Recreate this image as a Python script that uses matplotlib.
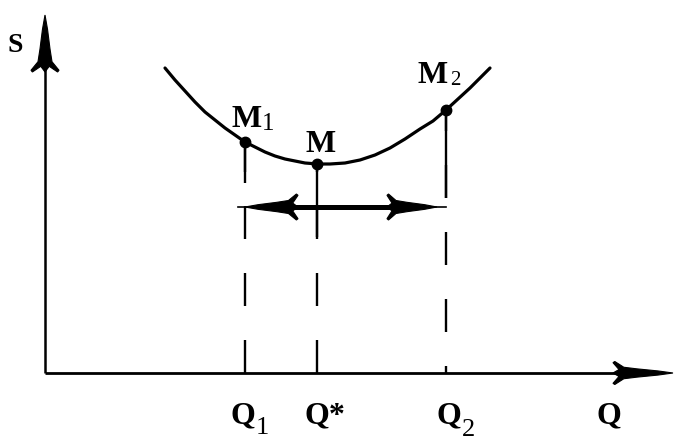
import numpy as np
import matplotlib.pyplot as plt
from matplotlib.patches import Polygon

# =====================================================
# DATA (Q = output, S = cost, same units as the axes)
# =====================================================

curve_q = [120, 130, 140, 150, 160, 170, 180, 190, 200, 210, 220, 230, 240, 250, 260,
           273, 285, 300, 315, 330, 345, 360, 375, 388, 401, 413, 425, 435, 445]
curve_s = [305, 293, 282, 271, 261, 253, 245, 238, 231, 226, 221, 217, 214, 212, 210,
           209, 209, 210, 213, 218, 225, 234, 244, 252, 263, 274, 285, 295, 305]

point_names = ["M", "M", "M"]
point_subs = ["1", "", "2"]
point_q = [200, 272, 401]
point_s = [231, 209, 263]

tick_names = ["Q", "Q*", "Q"]
tick_subs = ["1", "", "2"]

shift_s = 166
shift_q = [193, 401]

q_max = 628
s_max = 358

# =====================================================
# STYLE
# =====================================================

plt.rcParams["font.family"] = ["Liberation Serif", "DejaVu Serif"]
plt.rcParams["lines.scale_dashes"] = False

BLACK = "black"
MAIN_SIZE = 23
SUB_SIZE = 19


def fletch(ax, tip_q, tip_s, dq, ds, length, width):
    # arrow head with swept-back wings and a tapered body
    half_u = [0, -0.25, -0.6, -0.82, -0.97, -1.0, -0.9, -1.0]
    half_v = [0, 0.18, 0.36, 0.5, 1.0, 0.9, 0.3, 0]
    u = np.array(half_u + half_u[-2:0:-1])
    v = np.array(half_v + [-x for x in half_v[-2:0:-1]])
    nq, ns = -ds, dq
    pq = tip_q + u * length * dq + v * width * nq
    ps = tip_s + u * length * ds + v * width * ns
    ax.add_patch(
        Polygon(
            np.column_stack([pq, ps]),
            closed=True,
            facecolor=BLACK,
            edgecolor=BLACK,
            linewidth=0.8,
            zorder=5
        )
    )


# =====================================================
# FIGURE
# =====================================================

fig = plt.figure(figsize=(6.84, 4.48), dpi=100)
ax = fig.add_axes([0, 0, 1, 1])
ax.set_xlim(-45, 639)
ax.set_ylim(-75, 373)
ax.axis("off")

# axes
ax.plot([0, 0], [0, s_max - 40], color=BLACK, lw=1.8, solid_capstyle="butt")
ax.plot([0, q_max - 40], [0, 0], color=BLACK, lw=2.0, solid_capstyle="butt")
fletch(ax, 0, s_max, 0, 1, 57, 14)
fletch(ax, q_max, 0, 1, 0, 60, 11.5)

# dashed drop lines
dash_offsets = [0, 0, 26 * 0.72]
solid_len = [41, 73, 88]

for q, s, off, sl in zip(point_q, point_s, dash_offsets, solid_len):

    ax.plot(
        [q, q],
        [0, s],
        color=BLACK,
        lw=1.7,
        linestyle=(off, (33 * 0.72, 34 * 0.72)),
        solid_capstyle="butt",
        dash_capstyle="butt"
    )

    ax.plot(
        [q, q],
        [s, s - sl],
        color=BLACK,
        lw=1.7,
        solid_capstyle="butt"
    )

# curve
ax.plot(curve_q, curve_s, color=BLACK, lw=2.3, solid_capstyle="round", solid_joinstyle="round")

# points
ax.plot(
    point_q,
    point_s,
    linestyle="none",
    marker="o",
    markersize=7.5,
    color=BLACK,
    zorder=6
)

# double arrow
ax.plot(shift_q, [shift_s, shift_s], color=BLACK, lw=1.2)
ax.plot([shift_q[0] + 30, shift_q[1] - 40], [shift_s, shift_s], color=BLACK, lw=3.6)
fletch(ax, shift_q[0] + 7, shift_s, -1, 0, 53, 13)
fletch(ax, shift_q[1] - 9, shift_s, 1, 0, 50, 13)

# =====================================================
# LABELS
# =====================================================

ax.text(-30, 328, "S", fontsize=20, fontweight="bold", ha="center", va="center")

# point labels: main letter + subscript
label_pos = [(186, 246), (260, 221), (373, 290)]
sub_pos = [(217, 243), None, (405, 288)]
sub_size = [18, None, 15]

for name, sub, (lx, ly), sp, ss in zip(point_names, point_subs, label_pos, sub_pos, sub_size):

    ax.text(lx, ly, name, fontsize=MAIN_SIZE, fontweight="bold", ha="left", va="baseline")

    if sub:
        ax.text(sp[0], sp[1], sub, fontsize=ss, ha="left", va="baseline")

# tick labels under the Q axis
tick_pos = [(186, -50), (259, -50), (392, -50)]
tick_sub_pos = [(211, -61), None, (417, -63)]

for name, sub, (lx, ly), sp in zip(tick_names, tick_subs, tick_pos, tick_sub_pos):

    ax.text(lx, ly, name, fontsize=MAIN_SIZE, fontweight="bold", ha="left", va="baseline")

    if sub:
        ax.text(sp[0], sp[1], sub, fontsize=SUB_SIZE, ha="left", va="baseline")

ax.text(552, -50, "Q", fontsize=MAIN_SIZE, fontweight="bold", ha="left", va="baseline")

plt.savefig("out.png", dpi=100)
plt.close()
